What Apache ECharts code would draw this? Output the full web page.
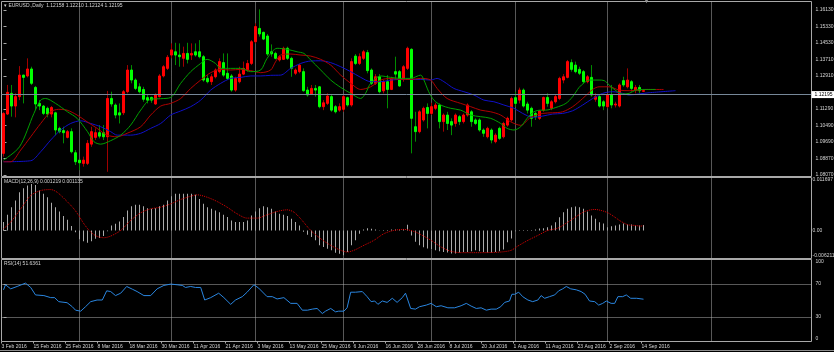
<!DOCTYPE html>
<html>
<head>
<meta charset="utf-8">
<script src="https://cdn.jsdelivr.net/npm/echarts@6/dist/echarts.min.js"></script>
<style>
  html, body { margin: 0; padding: 0; background: #000; }
  #chart { width: 834px; height: 352px; }
</style>
</head>
<body>
<div id="chart"></div>
<script>
// EURUSD daily: Alligator on price, MACD(12,26,9) and RSI(14) panes

// open, high, low, close for each daily bar, starting 3 Feb 2016
var ohlc = [
  [1.0913, 1.1114, 1.0897, 1.1108], [1.1105, 1.1247, 1.1100, 1.1211], [1.1206, 1.1247, 1.1092, 1.1144], [1.1144, 1.1206, 1.1089, 1.1190],
  [1.1190, 1.1339, 1.1173, 1.1295], [1.1295, 1.1297, 1.1157, 1.1284], [1.1291, 1.1377, 1.1284, 1.1325], [1.1325, 1.1336, 1.1247, 1.1255],
  [1.1235, 1.1242, 1.1124, 1.1154], [1.1157, 1.1173, 1.1124, 1.1144], [1.1144, 1.1149, 1.1100, 1.1108], [1.1133, 1.1141, 1.1089, 1.1105],
  [1.1105, 1.1144, 1.1089, 1.1137], [1.1111, 1.1116, 1.1002, 1.1027], [1.1035, 1.1043, 1.1011, 1.1019], [1.1024, 1.1043, 1.0962, 1.1014],
  [1.0991, 1.1027, 1.0986, 1.1019], [1.1019, 1.1035, 1.0913, 1.0921], [1.0916, 1.0929, 1.0856, 1.0872], [1.0880, 1.0883, 1.0831, 1.0867],
  [1.0864, 1.0897, 1.0848, 1.0880], [1.0864, 1.0978, 1.0856, 1.0962], [1.0958, 1.1043, 1.0945, 1.1019], [1.0991, 1.1035, 1.0978, 1.1014],
  [1.1014, 1.1051, 1.0986, 1.0997], [1.1014, 1.1051, 1.0978, 1.0994], [1.0994, 1.1218, 1.0823, 1.1181], [1.1181, 1.1214, 1.1141, 1.1154],
  [1.1149, 1.1157, 1.1084, 1.1100], [1.1111, 1.1157, 1.1059, 1.1100], [1.1111, 1.1222, 1.1100, 1.1214], [1.1214, 1.1344, 1.1206, 1.1320],
  [1.1320, 1.1344, 1.1255, 1.1271], [1.1271, 1.1279, 1.1222, 1.1230], [1.1238, 1.1255, 1.1206, 1.1214], [1.1225, 1.1238, 1.1165, 1.1177],
  [1.1185, 1.1198, 1.1157, 1.1173], [1.1186, 1.1190, 1.1160, 1.1173], [1.1154, 1.1206, 1.1150, 1.1198], [1.1190, 1.1300, 1.1186, 1.1291],
  [1.1291, 1.1344, 1.1284, 1.1336], [1.1328, 1.1393, 1.1320, 1.1382], [1.1393, 1.1450, 1.1377, 1.1418], [1.1409, 1.1453, 1.1344, 1.1393],
  [1.1393, 1.1450, 1.1336, 1.1385], [1.1377, 1.1434, 1.1336, 1.1401], [1.1401, 1.1453, 1.1352, 1.1372], [1.1393, 1.1450, 1.1369, 1.1401],
  [1.1409, 1.1450, 1.1385, 1.1393], [1.1409, 1.1466, 1.1377, 1.1385], [1.1385, 1.1393, 1.1263, 1.1271], [1.1279, 1.1295, 1.1255, 1.1263],
  [1.1263, 1.1300, 1.1247, 1.1287], [1.1287, 1.1328, 1.1279, 1.1320], [1.1312, 1.1377, 1.1304, 1.1361], [1.1356, 1.1401, 1.1287, 1.1295],
  [1.1304, 1.1401, 1.1271, 1.1279], [1.1291, 1.1300, 1.1214, 1.1222], [1.1222, 1.1287, 1.1214, 1.1279], [1.1263, 1.1336, 1.1255, 1.1300],
  [1.1300, 1.1361, 1.1295, 1.1328], [1.1320, 1.1369, 1.1312, 1.1352], [1.1352, 1.1466, 1.1344, 1.1458], [1.1458, 1.1548, 1.1450, 1.1532],
  [1.1523, 1.1616, 1.1483, 1.1496], [1.1504, 1.1507, 1.1466, 1.1471], [1.1486, 1.1496, 1.1389, 1.1398], [1.1409, 1.1445, 1.1385, 1.1399],
  [1.1401, 1.1409, 1.1372, 1.1377], [1.1369, 1.1393, 1.1361, 1.1385], [1.1372, 1.1434, 1.1369, 1.1426], [1.1426, 1.1434, 1.1369, 1.1377],
  [1.1377, 1.1385, 1.1287, 1.1328], [1.1304, 1.1328, 1.1295, 1.1320], [1.1312, 1.1350, 1.1304, 1.1344], [1.1312, 1.1328, 1.1214, 1.1219],
  [1.1222, 1.1238, 1.1190, 1.1198], [1.1203, 1.1247, 1.1198, 1.1230], [1.1230, 1.1247, 1.1190, 1.1222], [1.1238, 1.1242, 1.1133, 1.1141],
  [1.1141, 1.1173, 1.1124, 1.1160], [1.1157, 1.1206, 1.1149, 1.1193], [1.1190, 1.1198, 1.1116, 1.1124], [1.1141, 1.1149, 1.1108, 1.1116],
  [1.1124, 1.1157, 1.1116, 1.1141], [1.1128, 1.1198, 1.1116, 1.1190], [1.1185, 1.1190, 1.1141, 1.1149], [1.1149, 1.1377, 1.1141, 1.1361],
  [1.1388, 1.1398, 1.1344, 1.1352], [1.1352, 1.1401, 1.1344, 1.1385], [1.1377, 1.1418, 1.1369, 1.1409], [1.1405, 1.1418, 1.1304, 1.1317],
  [1.1320, 1.1328, 1.1247, 1.1255], [1.1255, 1.1300, 1.1247, 1.1287], [1.1287, 1.1300, 1.1206, 1.1214], [1.1218, 1.1271, 1.1206, 1.1263],
  [1.1263, 1.1295, 1.1133, 1.1225], [1.1225, 1.1287, 1.1222, 1.1279], [1.1312, 1.1385, 1.1271, 1.1300], [1.1312, 1.1320, 1.1238, 1.1242],
  [1.1274, 1.1344, 1.1263, 1.1336], [1.1328, 1.1434, 1.1320, 1.1426], [1.1421, 1.1426, 1.0913, 1.1084], [1.1043, 1.1116, 1.0970, 1.1019],
  [1.1019, 1.1124, 1.1011, 1.1116], [1.1076, 1.1141, 1.1068, 1.1133], [1.1137, 1.1157, 1.1035, 1.1108], [1.1108, 1.1160, 1.1100, 1.1141],
  [1.1133, 1.1160, 1.1124, 1.1149], [1.1149, 1.1157, 1.1035, 1.1068], [1.1068, 1.1108, 1.1019, 1.1100], [1.1100, 1.1116, 1.1027, 1.1059],
  [1.1068, 1.1084, 1.1002, 1.1051], [1.1059, 1.1108, 1.1043, 1.1100], [1.1092, 1.1100, 1.1051, 1.1068], [1.1068, 1.1108, 1.1059, 1.1100],
  [1.1100, 1.1157, 1.1092, 1.1149], [1.1116, 1.1124, 1.1043, 1.1068], [1.1076, 1.1084, 1.1051, 1.1059], [1.1076, 1.1084, 1.1019, 1.1027],
  [1.1027, 1.1035, 1.0994, 1.1011], [1.0994, 1.1043, 1.0986, 1.1035], [1.1027, 1.1035, 1.0962, 1.0978], [1.0970, 1.1011, 1.0962, 1.1002],
  [1.1035, 1.1043, 1.0978, 1.0986], [1.0994, 1.1067, 1.0986, 1.1059], [1.1051, 1.1092, 1.1043, 1.1084], [1.1076, 1.1190, 1.1068, 1.1181],
  [1.1185, 1.1214, 1.1141, 1.1157], [1.1173, 1.1234, 1.1157, 1.1222], [1.1222, 1.1230, 1.1137, 1.1144], [1.1154, 1.1165, 1.1108, 1.1124],
  [1.1133, 1.1141, 1.1043, 1.1084], [1.1108, 1.1116, 1.1076, 1.1092], [1.1084, 1.1124, 1.1076, 1.1120], [1.1124, 1.1190, 1.1116, 1.1186],
  [1.1186, 1.1206, 1.1141, 1.1157], [1.1133, 1.1173, 1.1124, 1.1165], [1.1165, 1.1198, 1.1157, 1.1190], [1.1181, 1.1287, 1.1173, 1.1279],
  [1.1271, 1.1300, 1.1255, 1.1287], [1.1284, 1.1369, 1.1279, 1.1361], [1.1356, 1.1372, 1.1312, 1.1323], [1.1344, 1.1361, 1.1304, 1.1312],
  [1.1323, 1.1336, 1.1295, 1.1304], [1.1312, 1.1320, 1.1255, 1.1263], [1.1263, 1.1295, 1.1255, 1.1287], [1.1284, 1.1344, 1.1190, 1.1198],
  [1.1177, 1.1206, 1.1165, 1.1190], [1.1190, 1.1198, 1.1137, 1.1144], [1.1165, 1.1173, 1.1124, 1.1144], [1.1141, 1.1206, 1.1133, 1.1198],
  [1.1198, 1.1247, 1.1133, 1.1149], [1.1149, 1.1165, 1.1137, 1.1154], [1.1144, 1.1255, 1.1137, 1.1247], [1.1268, 1.1287, 1.1238, 1.1247],
  [1.1238, 1.1328, 1.1230, 1.1271], [1.1263, 1.1271, 1.1214, 1.1230], [1.1222, 1.1247, 1.1206, 1.1235], [1.1235, 1.1247, 1.1206, 1.1219],
  [1.12158, 1.12210, 1.12124, 1.12195]
];

// Alligator lines as [bar, price] (shifted past the last bar)
var jaw = [
  [0, 1.0872], [6.8, 1.0877], [9.3, 1.0921], [11.8, 1.0978], [14.3, 1.1027], [16.8, 1.1059], [19.3, 1.1072], [21.8, 1.1059],
  [24.3, 1.1043], [26.8, 1.1019], [28.4, 1.1002], [31.8, 1.1002], [34.3, 1.1011], [36.8, 1.1035], [39.3, 1.1059], [41.8, 1.1100],
  [44.3, 1.1120], [46.8, 1.1141], [49.3, 1.1173], [51.8, 1.1222], [54.3, 1.1255], [56.8, 1.1279], [59.3, 1.1284], [61.8, 1.1291],
  [64.3, 1.1291], [66.8, 1.1294], [69.3, 1.1295], [71.8, 1.1328], [74.3, 1.1352], [76.8, 1.1364], [79.3, 1.1365], [81.8, 1.1356],
  [84.3, 1.1336], [86.8, 1.1312], [89.3, 1.1284], [91.8, 1.1263], [94.3, 1.1263], [96.8, 1.1271], [99.3, 1.1274], [104.3, 1.1274],
  [106.8, 1.1271], [108.4, 1.1279], [110.1, 1.1263], [112.6, 1.1230], [115.1, 1.1214], [117.6, 1.1198], [120.1, 1.1173], [122.6, 1.1165],
  [125.1, 1.1149], [127.6, 1.1133], [129.8, 1.1108], [132.3, 1.1089], [134.8, 1.1095], [137.3, 1.1105], [139.8, 1.1108], [142.3, 1.1121],
  [144.8, 1.1149], [147.3, 1.1181], [149.8, 1.1206], [152.3, 1.1214], [154.8, 1.1206], [156.4, 1.1198], [158.9, 1.1203], [161.4, 1.1209],
  [168, 1.1219]
];
var teeth = [
  [0, 1.0872], [1.8, 1.0872], [4.3, 1.0929], [6.8, 1.0994], [9.3, 1.1059], [11.8, 1.1116], [13.8, 1.1128], [15.9, 1.1124],
  [18.4, 1.1100], [20.9, 1.1067], [23.4, 1.1035], [25.9, 1.1002], [28.4, 1.0994], [30.9, 1.1011], [34.3, 1.1043], [36.8, 1.1100],
  [39.3, 1.1144], [41.8, 1.1157], [44.3, 1.1181], [46.8, 1.1230], [49.3, 1.1271], [51.8, 1.1307], [54.3, 1.1323], [56.8, 1.1320],
  [59.3, 1.1323], [61.8, 1.1317], [64.3, 1.1307], [66.8, 1.1320], [68, 1.1360], [69.3, 1.1393], [71.8, 1.1398], [74.3, 1.1393],
  [76.8, 1.1388], [79.3, 1.1372], [81.8, 1.1344], [84.3, 1.1295], [86.8, 1.1255], [89.3, 1.1225], [91.8, 1.1238], [94.3, 1.1271],
  [96.8, 1.1279], [99.3, 1.1274], [101.8, 1.1274], [104.3, 1.1279], [106.8, 1.1271], [108.4, 1.1230], [110.9, 1.1181], [114.3, 1.1157],
  [116.8, 1.1141], [119.3, 1.1124], [121.8, 1.1116], [124.3, 1.1100], [126.8, 1.1067], [129.3, 1.1050], [131.8, 1.1089], [134.8, 1.1108],
  [137.3, 1.1111], [139.8, 1.1116], [142.3, 1.1141], [144.8, 1.1181], [147.3, 1.1225], [148.9, 1.1238], [151.4, 1.1238], [153.9, 1.1222],
  [156.4, 1.1219], [158.9, 1.1222], [160.6, 1.1225], [165, 1.1225]
];
var lips = [
  [0, 1.0880], [4, 1.0945], [7.6, 1.1108], [9.3, 1.1173], [10.5, 1.1181], [13, 1.1157], [16, 1.1116], [18.4, 1.1084],
  [21, 1.1019], [22.6, 1.0970], [24.3, 1.0958], [26.8, 1.0975], [29.3, 1.1002], [31.8, 1.1051], [34.3, 1.1124], [36.8, 1.1177],
  [39.3, 1.1180], [41.8, 1.1186], [44.3, 1.1255], [46.8, 1.1312], [49.3, 1.1352], [50.9, 1.1372], [53, 1.1352], [54.3, 1.1328],
  [56.8, 1.1328], [59.3, 1.1328], [61.8, 1.1312], [64.3, 1.1320], [65.9, 1.1377], [68.4, 1.1426], [70.9, 1.1421], [73.4, 1.1409],
  [75.1, 1.1401], [76.8, 1.1369], [79.3, 1.1320], [81.8, 1.1271], [84.3, 1.1235], [86.8, 1.1206], [89.3, 1.1181], [90.5, 1.1206],
  [91.8, 1.1255], [94.3, 1.1291], [96.8, 1.1284], [99.3, 1.1279], [101.8, 1.1279], [104.3, 1.1295], [105.1, 1.1271], [106.3, 1.1214],
  [107.6, 1.1173], [109.3, 1.1149], [111.8, 1.1133], [114.3, 1.1124], [116.8, 1.1100], [119.3, 1.1092], [121.8, 1.1084], [124.3, 1.1059],
  [125.9, 1.1035], [127.6, 1.1027], [129.3, 1.1043], [130.9, 1.1084], [132.6, 1.1116], [134.3, 1.1124], [135.5, 1.1124], [138.1, 1.1137],
  [140.6, 1.1157], [142.3, 1.1190], [143.9, 1.1235], [145.2, 1.1258], [146.4, 1.1271], [148.9, 1.1271], [150.2, 1.1268], [151.4, 1.1247],
  [153.1, 1.1219], [154.8, 1.1203], [156.4, 1.1206], [158.1, 1.1222], [159.8, 1.1225], [163, 1.1225]
];

// MACD histogram, one value per bar
var macdHist = [
  0.00184, 0.00345, 0.00514, 0.00661, 0.00844, 0.00932, 0.00991, 0.01028, 0.01006, 0.00881, 0.00808, 0.00734, 0.00609, 0.00514, 0.00418, 0.00316,
  0.00235, 0.00095, -0.0004, -0.00198, -0.00242, -0.00272, -0.00242, -0.00184, -0.00169, -0.00125, -0.0002, 0.0011, 0.00147, 0.00198, 0.00294, 0.0044,
  0.00536, 0.00565, 0.00565, 0.00536, 0.00492, 0.00477, 0.00492, 0.00536, 0.00565, 0.00661, 0.00756, 0.00808, 0.00808, 0.00808, 0.00808, 0.00808,
  0.00786, 0.00697, 0.00587, 0.00514, 0.00477, 0.0044, 0.00404, 0.00345, 0.00294, 0.0022, 0.00184, 0.00184, 0.00184, 0.0022, 0.0033, 0.00418,
  0.00492, 0.00536, 0.00514, 0.00477, 0.00418, 0.00367, 0.00345, 0.00316, 0.00257, 0.00184, 0.0011, -0.0003, -0.00095, -0.00147, -0.0022, -0.0033,
  -0.00367, -0.00404, -0.0044, -0.00492, -0.00514, -0.00551, -0.00477, -0.0033, -0.0022, -0.00073, 0.00022, 0.0005, 0.00037, 0.0002, 0.00005, 0.0001,
  0.0001, 0.0002, 0.0002, 0.0002, 0.0003, 0.00125, -0.0011, -0.0025, -0.0033, -0.0037, -0.0040, -0.0041, -0.0044, -0.0046, -0.0048, -0.0049,
  -0.0051, -0.0051, -0.0049, -0.0048, -0.0048, -0.0046, -0.0044, -0.0046, -0.0048, -0.0049, -0.0049, -0.0048, -0.0046, -0.0042, -0.0026, -0.0018,
  -0.0002, 0.0001, 0.0001, 0.0001, 0.0001, 0.0002, 0.0004, 0.0005, 0.0007, 0.0011, 0.0018, 0.0029, 0.0040, 0.0048, 0.0051, 0.0053,
  0.0051, 0.0048, 0.0042, 0.0033, 0.0026, 0.0018, 0.0015, 0.0007, 0.0009, 0.0011, 0.0013, 0.0015, 0.0013, 0.0013, 0.0011, 0.0011,
  0.001219
];

// MACD signal line as [bar, value]
var macdSignal = [
  [0, 0.00037], [1.8, 0.00184], [4.3, 0.00477], [6.8, 0.00771], [9.3, 0.00881], [11.8, 0.00903], [13.4, 0.00844], [15.9, 0.00639],
  [17.6, 0.00477], [18.8, 0.0033], [20.1, 0.00147], [21.8, -0.00037], [23.4, -0.00132], [25.1, -0.00162], [26.8, -0.00125], [29.3, 0],
  [31.8, 0.0022], [34.3, 0.00389], [36.8, 0.00477], [39.3, 0.00514], [41.8, 0.00587], [44.3, 0.00683], [46.8, 0.00756], [48.4, 0.00786],
  [50.9, 0.00734], [53.4, 0.00639], [55.9, 0.00514], [58.4, 0.00367], [60.9, 0.00272], [63.4, 0.00272], [65.9, 0.00345], [68.4, 0.00418],
  [70.9, 0.00455], [72.6, 0.00404], [74.3, 0.00257], [76.8, 0], [79.3, -0.00184], [81.8, -0.0033], [84.3, -0.0044], [85.9, -0.00477],
  [87.6, -0.0044], [90.1, -0.0033], [92.6, -0.0022], [95.1, -0.00073], [97.6, 0], [100.1, 0.00022], [102.6, -0.00022], [104.4, -0.00095],
  [106.9, -0.0022], [109.4, -0.00367], [111.9, -0.00463], [114.4, -0.00492], [119.4, -0.00492], [124.4, -0.00477], [126.9, -0.0044], [128.6, -0.00345],
  [131.1, -0.0022], [133.6, -0.0011], [136.1, 0], [138.6, 0.00051], [141.1, 0.00184], [143.6, 0.0033], [145.3, 0.00418], [147.8, 0.00463],
  [149.4, 0.00441], [151.1, 0.00389], [152.8, 0.00294], [154.4, 0.00198], [156.1, 0.00125], [157.8, 0.0011], [159.4, 0.00095], [160, 0.001135]
];

// RSI(14) as [bar, value]
var rsiLine = [
  [0, 63.0], [0.5, 69.2], [1.8, 64.2], [3.4, 67.1], [5.5, 71.2], [6.8, 65.9], [8, 56.8], [10.1, 56.0], [11.8, 53.5], [12.8, 53.5],
  [13.8, 48.6], [15.9, 47.3], [17.2, 42.4], [18, 38.2], [19.3, 37.0], [20.5, 42.4], [21.8, 48.6], [23.4, 50.6], [24.7, 50.6], [25.8, 61.8],
  [26.8, 60.9], [28, 56.0], [29.3, 58.9], [30.8, 67.1], [32.2, 63.8], [33.4, 60.9], [35.1, 56.0], [36.8, 56.0], [38.4, 64.2], [40.1, 68.4],
  [41.8, 70.0], [43.4, 69.2], [44.7, 68.4], [45.5, 65.9], [46.8, 67.1], [48, 65.9], [49.3, 65.9], [50.3, 50.6], [51.8, 53.5], [53.8, 58.9],
  [55.1, 53.5], [56.8, 45.3], [58, 50.6], [59.7, 54.7], [60.9, 60.1], [62.6, 69.2], [63.8, 65.1], [65.9, 54.7], [67.2, 54.7], [68.4, 51.9],
  [70.1, 53.5], [71.8, 46.5], [73.4, 46.5], [74.7, 38.2], [76, 38.2], [77.2, 39.5], [78.4, 40.3], [79.7, 34.1], [80.5, 37.0], [81.8, 40.3],
  [83, 36.2], [83.8, 37.0], [85.1, 37.0], [85.9, 41.1], [86.8, 60.1], [88, 60.1], [89.7, 60.9], [90.9, 54.7], [91.9, 48.6], [92.8, 49.4],
  [93.6, 45.3], [94.7, 49.4], [95.9, 47.7], [97.2, 52.7], [98.4, 47.7], [99.7, 53.5], [100.5, 58.9], [101.8, 40.3], [103, 39.5], [104, 42.4],
  [105.7, 44.4], [106.9, 46.5], [108.2, 42.4], [109.4, 43.6], [111.1, 41.1], [112.8, 41.1], [114.4, 43.6], [115.7, 46.5], [116.9, 43.2], [118.2, 40.3],
  [119.4, 41.1], [120.7, 38.2], [121.9, 39.5], [123.2, 39.5], [124.3, 42.4], [125.3, 47.7], [126.5, 49.4], [127.1, 57.6], [127.8, 57.6], [128.8, 60.1],
  [129.8, 54.7], [131.1, 50.6], [132.3, 48.6], [133.6, 50.6], [134.4, 56.0], [135.3, 52.7], [136.5, 54.7], [137.8, 56.8], [138.8, 61.8], [139.8, 64.2],
  [140.7, 67.1], [141.8, 64.2], [143.2, 63.0], [144.4, 60.9], [145.4, 57.6], [146.5, 49.4], [147.8, 48.6], [148.8, 44.4], [149.8, 46.5], [150.7, 49.4],
  [151.9, 46.5], [152.8, 46.5], [153.6, 54.7], [154.8, 54.7], [155.7, 56.8], [156.8, 52.7], [158.3, 52.7], [160, 51.6]
];

var dateLabels = ['3 Feb 2016', '15 Feb 2016', '25 Feb 2016', '8 Mar 2016', '18 Mar 2016', '30 Mar 2016', '11 Apr 2016',
  '21 Apr 2016', '3 May 2016', '13 May 2016', '25 May 2016', '6 Jun 2016', '16 Jun 2016', '28 Jun 2016', '8 Jul 2016',
  '20 Jul 2016', '1 Aug 2016', '11 Aug 2016', '23 Aug 2016', '2 Sep 2016', '14 Sep 2016'];
var dateBars = [0, 8, 16, 24, 32, 40, 48, 56, 64, 72, 80, 88, 96, 104, 112, 120, 128, 136, 144, 152, 160];
var monthStartBars = [19, 42, 63, 85, 107, 128, 151, 177];
var priceTicks = [1.08070, 1.08870, 1.09690, 1.10490, 1.11290, 1.12910, 1.13710, 1.14530, 1.15330, 1.16130];
var macdTicks = [-0.006211, 0, 0.011697];
var rsiTicks = [0, 30, 70, 100];
var rsiLevels = [30, 70];
var bidPrice = 1.12195;

var chart = echarts.init(document.getElementById('chart'));

var font = "'Liberation Sans', Arial, sans-serif";
var fontSize = 5;
var textColor = '#d4d4d4';
var frameColor = '#a8a8a8';
var dotColor = '#b0b0b0';

var wickData = ohlc.map(function (d, i) { return [i, d[0], d[3], d[2], d[1]]; });
var bodyData = ohlc.map(function (d, i) { return [i, d[0], d[3], Math.min(d[0], d[3]), Math.max(d[0], d[3])]; });
var dateLabelPos = dateBars.map(function (b) { return b - 0.5; });

function gridFrame(top, height) {
  return { left: 1.5, top: top, width: 810, height: height, outerBoundsMode: 'none', containLabel: false,
    show: true, borderColor: frameColor, borderWidth: 1, backgroundColor: '#000' };
}

function plainX(gi) {
  return { type: 'value', gridIndex: gi, min: -0.5, max: 202,
    axisLine: { show: false }, axisTick: { show: false }, axisLabel: { show: false }, splitLine: { show: false } };
}

function rightY(gi, min, max, ticks, fmt, edges, margin) {
  var label = { customValues: ticks, formatter: fmt, margin: margin, color: textColor, fontSize: fontSize, fontFamily: font };
  if (edges) {
    label.verticalAlignMinLabel = 'bottom';
    label.verticalAlignMaxLabel = 'top';
  }
  return { type: 'value', gridIndex: gi, position: 'right', min: min, max: max,
    axisLine: { show: false }, splitLine: { show: false },
    axisTick: { show: true, customValues: ticks, length: 3, lineStyle: { color: frameColor } },
    axisLabel: label };
}

function monthLines(extra) {
  var data = monthStartBars.map(function (b) { return { xAxis: b }; });
  return { silent: true, symbol: 'none', z: 1, animation: false, label: { show: false },
    lineStyle: { color: dotColor, width: 1, type: [1, 1] }, data: data.concat(extra || []) };
}

var bottomX = plainX(2);
bottomX.axisLabel = { show: true, customValues: dateLabelPos, align: 'left', margin: 3, color: textColor, fontSize: fontSize, fontFamily: font,
  formatter: function (v) { return dateLabels[dateBars.indexOf(Math.round(v + 0.5))]; } };
bottomX.axisTick = { show: true, customValues: dateLabelPos, length: 2, lineStyle: { color: frameColor } };

var titleStyle = { color: textColor, fontSize: fontSize, fontWeight: 'normal', fontFamily: font };

var option = {
  backgroundColor: '#000',
  animation: false,
  title: [
    { text: '\u25BE EURUSD.,Daily  1.12158 1.12210 1.12124 1.12195', left: 4, top: 3, padding: 0, textStyle: titleStyle },
    { text: 'MACD(12,26,9) 0.001219 0.001135', left: 4, top: 179, padding: 0, textStyle: titleStyle },
    { text: 'RSI(14) 51.6361', left: 4, top: 261, padding: 0, textStyle: titleStyle },
    { text: '\u25BE', left: 645, top: -2, padding: 0, textStyle: { color: '#909090', fontSize: 6 } }
  ],
  grid: [gridFrame(1.5, 175), gridFrame(177.5, 81), gridFrame(259.5, 82)],
  xAxis: [plainX(0), plainX(1), bottomX],
  yAxis: [
    rightY(0, 1.0800, 1.16545, priceTicks, function (v) { return v.toFixed(5); }, false, 4),
    rightY(1, -0.006211, 0.011697, macdTicks, function (v) { return v === 0 ? '0.00' : v.toFixed(6); }, true, 1),
    rightY(2, 0, 100, rsiTicks, function (v) { return String(v); }, true, 4)
  ],
  series: [
    {
      name: 'wicks', type: 'candlestick', xAxisIndex: 0, yAxisIndex: 0, encode: { x: 0, y: [1, 2, 3, 4] },
      data: wickData, barWidth: 0,
      itemStyle: { color: '#a00000', color0: '#008c00', borderColor: '#a00000', borderColor0: '#008c00', borderWidth: 1 },
      markLine: monthLines()
    },
    {
      name: 'bodies', type: 'candlestick', xAxisIndex: 0, yAxisIndex: 0, encode: { x: 0, y: [1, 2, 3, 4] },
      data: bodyData, barWidth: 2,
      itemStyle: { color: '#ff0000', color0: '#00ff00', borderColor: '#ff0000', borderColor0: '#00ff00', borderWidth: 1 },
      markLine: {
        silent: true, symbol: 'none', animation: false,
        lineStyle: { color: '#778899', width: 1, type: 'solid' },
        label: { position: 'end', distance: 0, formatter: bidPrice.toFixed(5), backgroundColor: '#ffffff', color: '#000',
          fontSize: fontSize, fontFamily: font, padding: [1, 3, 1, 3] },
        data: [{ yAxis: bidPrice }]
      }
    },
    { name: 'Jaw', type: 'line', xAxisIndex: 0, yAxisIndex: 0, data: jaw, showSymbol: false, smooth: 0.3,
      lineStyle: { color: '#1010c8', width: 1 } },
    { name: 'Teeth', type: 'line', xAxisIndex: 0, yAxisIndex: 0, data: teeth, showSymbol: false, smooth: 0.3,
      lineStyle: { color: '#b00000', width: 1 } },
    { name: 'Lips', type: 'line', xAxisIndex: 0, yAxisIndex: 0, data: lips, showSymbol: false, smooth: 0.3,
      lineStyle: { color: '#00a000', width: 1 } },
    {
      name: 'MACD', type: 'bar', xAxisIndex: 1, yAxisIndex: 1, barWidth: 1,
      data: macdHist.map(function (v, i) { return [i, v]; }),
      itemStyle: { color: '#ababab' },
      markLine: monthLines()
    },
    { name: 'Signal', type: 'line', xAxisIndex: 1, yAxisIndex: 1, data: macdSignal, showSymbol: false, smooth: 0.3,
      lineStyle: { color: '#e00000', width: 1, type: [1, 1] } },
    {
      name: 'RSI', type: 'line', xAxisIndex: 2, yAxisIndex: 2, data: rsiLine, showSymbol: false,
      lineStyle: { color: '#2a86e0', width: 1 },
      markLine: monthLines(rsiLevels.map(function (v) { return { yAxis: v }; }))
    }
  ],
  graphic: [
    { type: 'line', shape: { x1: 0, y1: 350.5, x2: 834, y2: 350.5 }, style: { stroke: '#8c8c8c', lineWidth: 1 }, silent: true }
  ]
};

chart.setOption(option);
</script>
</body>
</html>
